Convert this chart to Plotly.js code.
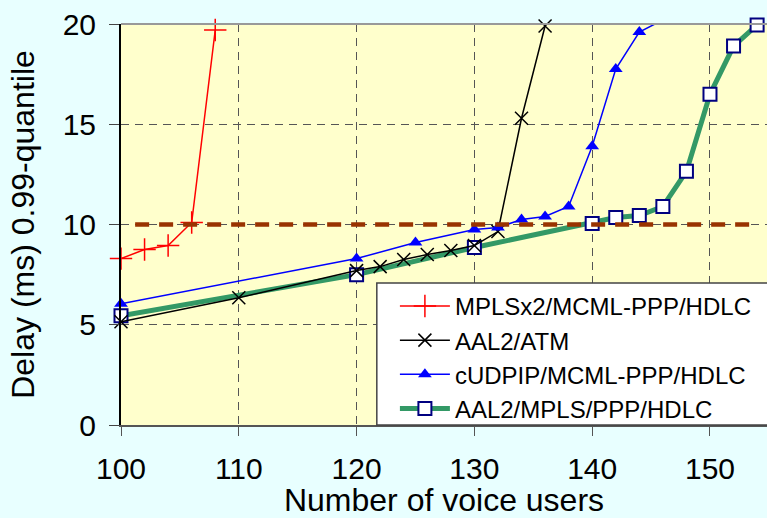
<!DOCTYPE html>
<html><head><meta charset="utf-8">
<script src="https://cdn.plot.ly/plotly-3.0.1.min.js"></script>
<style>html,body{margin:0;padding:0;background:#e8ffff}</style>
</head><body><div id="chart" style="width:767px;height:518px"></div>
<script>
// ---- data ----
const seriesNames = ["MPLSx2/MCML-PPP/HDLC", "AAL2/ATM", "cUDPIP/MCML-PPP/HDLC", "AAL2/MPLS/PPP/HDLC"];
const xMpls = [100, 102, 104, 106, 108];
const yMpls = [8.3, 8.75, 8.95, 10.1, 19.7];
const xAtm = [100, 110, 120, 122, 124, 126, 128, 130, 132, 134, 136];
const yAtm = [5.15, 6.35, 7.7, 7.9, 8.25, 8.5, 8.7, 8.95, 9.65, 15.3, 19.9];
const xUdp = [100, 120, 125, 130, 132, 134, 136, 138, 140, 142, 144, 146];
const yUdp = [6.05, 8.3, 9.1, 9.75, 9.85, 10.25, 10.4, 10.9, 13.9, 17.75, 19.6, 20.2];
const xAal = [100, 120, 130, 140, 142, 144, 146, 148, 150, 152, 154];
const yAal = [5.45, 7.5, 8.85, 10.05, 10.35, 10.45, 10.9, 12.65, 16.5, 18.9, 19.95];
const thresholdX = [101.2, 153.8];
const thresholdY = [10, 10];
const xTicks = [100, 110, 120, 130, 140, 150];
const yTicks = [0, 5, 10, 15, 20];
const xTitle = "Number of voice users";
const yTitle = "Delay (ms) 0.99-quantile";

// ---- traces ----
const yMax = 20;
const traces = [
  {x: xAal, y: yAal, name: seriesNames[3], mode: "lines+markers", legendrank: 4, cliponaxis: false,
   line: {color: "#339966", width: 5},
   marker: {symbol: "square", size: 13, color: "#ffffff", line: {color: "#000080", width: 2}}},
  {x: xAtm, y: yAtm, name: seriesNames[1], mode: "lines+markers", legendrank: 2, cliponaxis: false,
   line: {color: "#000000", width: 1.5},
   marker: {symbol: "x-thin-open", size: 13, color: "#000000", line: {color: "#000000", width: 1.5}}},
  {x: xUdp, y: yUdp, name: seriesNames[2], mode: "lines+markers", legendrank: 3, cliponaxis: false,
   line: {color: "#0000ff", width: 1.5},
   marker: {symbol: "triangle-up", size: 12, color: yUdp.map(v => v > yMax ? "rgba(0,0,0,0)" : "#0000ff")}},
  {x: xMpls, y: yMpls, name: seriesNames[0], mode: "lines+markers", legendrank: 1, cliponaxis: false,
   line: {color: "#ff0000", width: 1.5},
   marker: {symbol: "cross-thin-open", size: 16, color: "#ff0000", line: {color: "#ff0000", width: 1.5}}},
  {x: thresholdX, y: thresholdY, mode: "lines", showlegend: false, hoverinfo: "skip", cliponaxis: false,
   line: {color: "#993300", width: 4.5, dash: "14px,10px"}}
];

const font = {family: "Liberation Sans, Arial, sans-serif", color: "#000000"};
const layout = {
  width: 767, height: 518,
  margin: {l: 121, r: 0, t: 24, b: 93, pad: 0},
  paper_bgcolor: "#e8ffff",
  plot_bgcolor: "#ffffcc",
  font: font,
  showlegend: true,
  xaxis: {
    range: [100, 154.84], tickvals: xTicks, ticktext: xTicks.map(String),
    showgrid: true, gridcolor: "#555555", gridwidth: 1, griddash: "8px,6px",
    showline: true, linecolor: "#555555", linewidth: 1.5,
    ticks: "outside", ticklen: 9, tickcolor: "#555555", tickwidth: 1,
    tickfont: {size: 30, family: font.family, color: "#000"},
    ticklabelstandoff: 7,
    zeroline: false, automargin: false,
    title: {text: xTitle, font: {size: 32, family: font.family, color: "#000"}, standoff: 8}
  },
  yaxis: {
    range: [0, 20], tickvals: yTicks, ticktext: yTicks.map(String),
    showgrid: true, gridcolor: "#555555", gridwidth: 1, griddash: "8px,6px",
    showline: true, linecolor: "#000000", linewidth: 2,
    ticks: "outside", ticklen: 10, tickcolor: "#444444", tickwidth: 1,
    tickfont: {size: 30, family: font.family, color: "#000"},
    ticklabelstandoff: 7,
    zeroline: false, automargin: false,
    title: {text: yTitle, font: {size: 32, family: font.family, color: "#000"}, standoff: 18}
  },
  legend: {
    x: 0.424, y: 0.352, xanchor: "left", yanchor: "top",
    bgcolor: "rgba(0,0,0,0)", borderwidth: 0,
    font: {size: 24, family: font.family, color: "#000"},
    itemwidth: 50, traceorder: "normal"
  },
  shapes: [
    {type: "rect", xref: "paper", yref: "paper", x0: 0.396, x1: 1.01, y0: 0, y1: 0.354,
     fillcolor: "#ffffff", line: {color: "#444444", width: 1.5}, layer: "above"},
    {type: "line", xref: "paper", yref: "paper", x0: 0, x1: 1, y0: 1, y1: 1,
     line: {color: "#999999", width: 2}, layer: "above"}
  ]
};

Plotly.newPlot("chart", traces, layout, {displayModeBar: false, staticPlot: true});
</script></body></html>
